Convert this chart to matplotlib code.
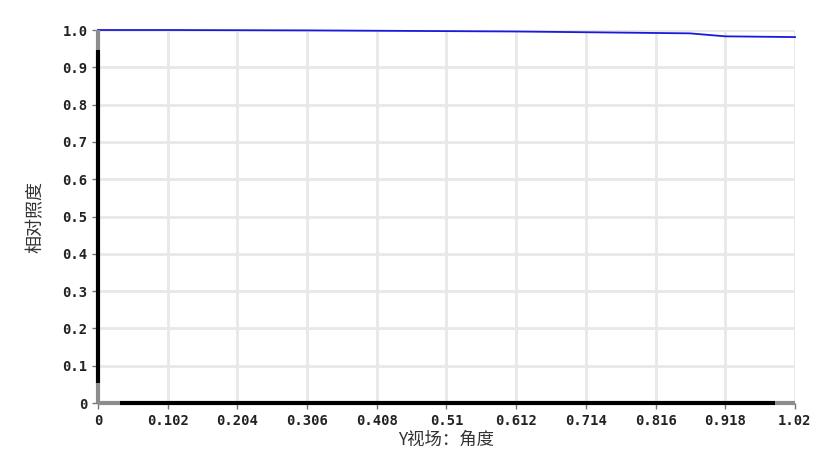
import matplotlib
matplotlib.use("Agg")
import matplotlib.pyplot as plt
import numpy as np

# data
field_angle = [0.0, 0.102, 0.204, 0.306, 0.408, 0.51, 0.612, 0.714, 0.816, 0.866, 0.918, 0.97, 1.02]
rel_illum = [1.0, 1.0, 0.9995, 0.999, 0.998, 0.997, 0.996, 0.994, 0.992, 0.991, 0.983, 0.982, 0.981]
xticks = [0, 0.102, 0.204, 0.306, 0.408, 0.51, 0.612, 0.714, 0.816, 0.918, 1.02]
xticklabels = ["0", "0.102", "0.204", "0.306", "0.408", "0.51", "0.612", "0.714", "0.816", "0.918", "1.02"]
yticks = [0, 0.1, 0.2, 0.3, 0.4, 0.5, 0.6, 0.7, 0.8, 0.9, 1.0]
yticklabels = ["0", "0.1", "0.2", "0.3", "0.4", "0.5", "0.6", "0.7", "0.8", "0.9", "1.0"]

fig = plt.figure(figsize=(8.23, 4.69), dpi=100)
ax = fig.add_axes([98/823, 66/469, 697/823, 373/469])

ax.plot(field_angle, rel_illum, color="#1a1adc", lw=1.3, zorder=3, clip_on=False)
ax.set_xlim(0, 1.02)
ax.set_ylim(0, 1.0)
ax.set_xticks(xticks)
ax.set_xticklabels(xticklabels)
ax.set_yticks(yticks)
ax.set_yticklabels(yticklabels)
ax.grid(True, color="#e8e8e8", lw=2)
ax.set_axisbelow(True)
for s in ax.spines.values():
    s.set_visible(False)

# custom spines
def seg(x0, y0, x1, y1, c, lw):
    ax.plot([x0, x1], [y0, y1], color=c, lw=lw, transform=ax.transAxes,
            clip_on=False, zorder=4, solid_capstyle="butt")

seg(0, 0, 0, 20/373, "#8c8c8c", 3)
seg(0, 20/373, 0, 353/373, "black", 3)
seg(0, 353/373, 0, 1, "#8c8c8c", 3)
seg(0, 0, 22/697, 0, "#8c8c8c", 3)
seg(22/697, 0, 677/697, 0, "black", 3)
seg(677/697, 0, 1, 0, "#8c8c8c", 3)

ax.tick_params(axis="both", length=4, width=1, color="#777777",
               labelsize=10, labelcolor="#222222")
for lab in ax.get_xticklabels() + ax.get_yticklabels():
    lab.set_family("DejaVu Sans Mono")
    lab.set_fontweight("bold")
ax.tick_params(axis="x", pad=4)

ax.set_xlabel("Y视场：角度", fontsize=12.5, family=["Noto Sans CJK SC", "DejaVu Sans"],
              color="#333333", labelpad=2)
ax.set_ylabel("相对照度", fontsize=13, family=["Noto Sans CJK SC", "DejaVu Sans"],
              color="#333333")
ax.yaxis.set_label_coords(-53/697, 0.5)

fig.savefig("out.png", dpi=100)
